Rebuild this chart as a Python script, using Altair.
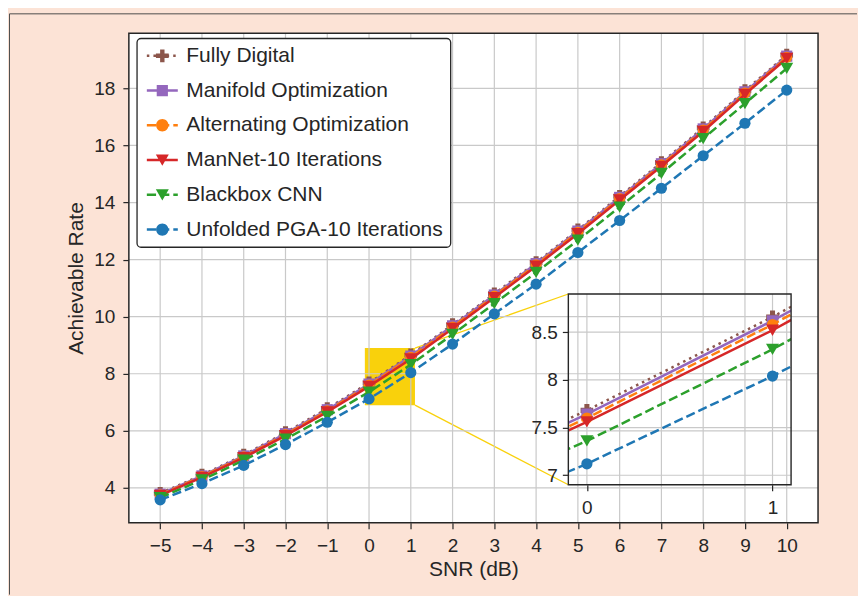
import altair as alt
import pandas as pd

# ---------------- data ----------------
SNR = [-5, -4, -3, -2, -1, 0, 1, 2, 3, 4, 5, 6, 7, 8, 9, 10]
SERIES = [
    "Fully Digital",
    "Manifold Optimization",
    "Alternating Optimization",
    "ManNet-10 Iterations",
    "Blackbox CNN",
    "Unfolded PGA-10 Iterations",
]
FULLY_DIGITAL = [3.81, 4.45, 5.15, 5.94, 6.78, 7.68, 8.66, 9.72, 10.80, 11.90, 13.04, 14.22, 15.40, 16.62, 17.92, 19.17]
MANIFOLD = [3.78, 4.42, 5.12, 5.90, 6.74, 7.64, 8.62, 9.68, 10.76, 11.86, 13.00, 14.18, 15.36, 16.58, 17.88, 19.13]
ALTERNATING = [3.76, 4.40, 5.09, 5.87, 6.70, 7.60, 8.58, 9.64, 10.72, 11.82, 12.96, 14.14, 15.32, 16.54, 17.84, 19.09]
MANNET = [3.74, 4.37, 5.06, 5.83, 6.66, 7.56, 8.52, 9.59, 10.67, 11.77, 12.91, 14.09, 15.27, 16.49, 17.79, 19.05]
BLACKBOX = [3.66, 4.28, 4.97, 5.71, 6.51, 7.36, 8.32, 9.38, 10.46, 11.55, 12.68, 13.84, 15.02, 16.24, 17.47, 18.70]
PGA = [3.58, 4.15, 4.79, 5.52, 6.30, 7.12, 8.04, 9.04, 10.10, 11.14, 12.25, 13.37, 14.50, 15.64, 16.78, 17.94]
VALUES = [FULLY_DIGITAL, MANIFOLD, ALTERNATING, MANNET, BLACKBOX, PGA]

X_TICKS = [-5, -4, -3, -2, -1, 0, 1, 2, 3, 4, 5, 6, 7, 8, 9, 10]
Y_TICKS = [4, 6, 8, 10, 12, 14, 16, 18]
INSET_X_TICKS = [0, 1]
INSET_Y_TICKS = [7, 7.5, 8, 8.5]
ZOOM_X = [-0.1, 1.1]
ZOOM_Y = [6.9, 8.9]

# ---------------- styles / layout ----------------
COLORS = ["#8c564b", "#9467bd", "#ff7f0e", "#d62728", "#2ca02c", "#1f77b4"]
DASHES = [[2.5, 4.1], None, [9.25, 4.0], None, [9.25, 4.0], [9.25, 4.0]]
SHAPES = ["cross", "square", "circle", "triangle-down", "triangle-down", "circle"]
SIZES = [160, 125, 125, 170, 170, 125]
LW = 2.5

W, H = 690, 490
X_DOM = [-5.75, 10.75]
Y_DOM = [2.78, 19.93]
IN_LEFT, IN_W, IN_TOP, IN_BOTTOM = 440, 223, 261, 452

FONT = "Liberation Sans"
INK = "#262626"
GRID = "#c9c9c9"
GOLD = "#F9D10C"
PEACH = "#FCE3D6"
BORDER = "#4d4d4d"

rows = []
for name, vals in zip(SERIES, VALUES):
    for s, v in zip(SNR, vals):
        rows.append({"snr": s, "rate": v, "series": name})
df = pd.DataFrame(rows)

# ---------------- legend symbols (line + marker as custom paths) ----------------
U = 10.0  # px per path unit for symbolSize 400
L, R, M = -0.75, 2.35, 0.8
T = (LW / 2) / U


def rect(x0, x1, t=T):
    return f"M{x0:.3f},{-t:.3f}H{x1:.3f}V{t:.3f}H{x0:.3f}Z"


def line_path(dash):
    if dash is None:
        return rect(L, R)
    d, g = dash[0] / U, dash[1] / U
    out, x = [], L
    while x < R - 1e-6:
        out.append(rect(x, min(x + d, R)))
        x += d + g
    return "".join(out)


def marker_path(shape):
    if shape == "circle":
        r = 0.62
        return f"M{M + r:.3f},0A{r},{r} 0 1,1 {M - r:.3f},0A{r},{r} 0 1,1 {M + r:.3f},0Z"
    if shape == "square":
        s = 0.56
        return f"M{M - s:.3f},{-s}H{M + s:.3f}V{s}H{M - s:.3f}Z"
    if shape == "triangle-down":
        return f"M{M - 0.65:.3f},-0.56H{M + 0.65:.3f}L{M:.3f},0.58Z"
    a, b = 0.64, 0.22
    pts = [(M - b, -a), (M + b, -a), (M + b, -b), (M + a, -b), (M + a, b), (M + b, b),
           (M + b, a), (M - b, a), (M - b, b), (M - a, b), (M - a, -b), (M - b, -b)]
    return "M" + "L".join(f"{x:.3f},{y:.3f}" for x, y in pts) + "Z"


PATHS = [line_path(d) + marker_path(s) for d, s in zip(DASHES, SHAPES)]

# ---------------- main panel ----------------
# the panel is declared IN_LEFT wide so the inset (next in the row) starts there;
# the x scale range still covers the full plot width W.
xs = alt.Scale(domain=X_DOM, nice=False, zero=False, range=[0, W])
ys = alt.Scale(domain=Y_DOM, nice=False, zero=False)
x_axis = alt.Axis(values=X_TICKS, grid=False, labelPadding=8, titlePadding=3)
y_axis = alt.Axis(values=Y_TICKS, grid=False, labelPadding=8, titlePadding=7)


def mx(f):
    return alt.X(f, type="quantitative", scale=xs, axis=x_axis, title="SNR (dB)")


def my(f):
    return alt.Y(f, type="quantitative", scale=ys, axis=y_axis, title="Achievable Rate")


panel = pd.DataFrame({"x0": [X_DOM[0]], "x1": [X_DOM[1]], "y0": [Y_DOM[0]], "y1": [Y_DOM[1]]})
box = pd.DataFrame({"x0": [ZOOM_X[0]], "x1": [ZOOM_X[1]], "y0": [ZOOM_Y[0]], "y1": [ZOOM_Y[1]]})

ix_main = X_DOM[0] + IN_LEFT / W * (X_DOM[1] - X_DOM[0])
iy_top_main = Y_DOM[1] - IN_TOP / H * (Y_DOM[1] - Y_DOM[0])
iy_bot_main = Y_DOM[1] - IN_BOTTOM / H * (Y_DOM[1] - Y_DOM[0])
conn = pd.DataFrame({
    "x": [ZOOM_X[1], ZOOM_X[1]],
    "y": [ZOOM_Y[1], ZOOM_Y[0]],
    "xe": [ix_main, ix_main],
    "ye": [iy_top_main, iy_bot_main],
})

one = pd.DataFrame({"a": [0]})
top_border = alt.Chart(one).mark_rule(color=BORDER, strokeWidth=1).encode(
    x=alt.value(-119.5), x2=alt.value(729), y=alt.value(-19.5))
left_border = alt.Chart(one).mark_rule(color=BORDER, strokeWidth=1).encode(
    x=alt.value(-119.5), y=alt.value(-19.5), y2=alt.value(562))

plot_bg = alt.Chart(panel).mark_rect(color="white").encode(x=mx("x0"), x2="x1", y=my("y0"), y2="y1")
plot_frame = alt.Chart(panel).mark_rect(fillOpacity=0, stroke=INK, strokeWidth=1.5).encode(
    x=mx("x0"), x2="x1", y=my("y0"), y2="y1")

legend = alt.Legend(orient="none", legendX=8, legendY=5, direction="vertical")
proxy = alt.Chart(pd.DataFrame({"series": SERIES})).mark_point(filled=True, size=400, opacity=1).encode(
    x=alt.value(100), y=alt.value(100),
    color=alt.Color("series:N", scale=alt.Scale(domain=SERIES, range=COLORS), legend=legend, title=None),
    shape=alt.Shape("series:N", scale=alt.Scale(domain=SERIES, range=PATHS), legend=legend, title=None),
)

zoom_rect = alt.Chart(box).mark_rect(color=GOLD).encode(x=mx("x0"), x2="x1", y=my("y0"), y2="y1")
connectors = alt.Chart(conn).mark_rule(color=GOLD, strokeWidth=1.3).encode(
    x=mx("x"), y=my("y"), x2="xe", y2="ye")
vgrid = alt.Chart(pd.DataFrame({"v": X_TICKS})).mark_rule(color=GRID, strokeWidth=1.2).encode(
    x=mx("v"), y=alt.value(0), y2=alt.value(H))
hgrid = alt.Chart(pd.DataFrame({"v": Y_TICKS})).mark_rule(color=GRID, strokeWidth=1.2).encode(
    y=my("v"), x=alt.value(0), x2=alt.value(W))

main_layers = [top_border, left_border, plot_bg, proxy, zoom_rect, connectors, vgrid, hgrid]
for name, c, d, s, z in zip(SERIES, COLORS, DASHES, SHAPES, SIZES):
    base = alt.Chart(df).transform_filter(alt.datum.series == name)
    lkw = dict(color=c, strokeWidth=LW)
    if d is not None:
        lkw["strokeDash"] = d
    main_layers.append(base.mark_line(**lkw).encode(x=mx("snr"), y=my("rate")))
    main_layers.append(base.mark_point(filled=True, shape=s, size=z, color=c, opacity=1).encode(
        x=mx("snr"), y=my("rate")))
main_layers.append(plot_frame)

main = alt.layer(*main_layers).properties(
    width=IN_LEFT, height=H,
    view=alt.ViewBackground(stroke="transparent"),
)

# ---------------- inset panel ----------------
ixs = alt.Scale(domain=ZOOM_X, nice=False, zero=False)
iys = alt.Scale(domain=ZOOM_Y, nice=False, zero=False, range=[IN_BOTTOM, IN_TOP])
ix_axis = alt.Axis(values=INSET_X_TICKS, grid=False, labelPadding=8, format="~g")
iy_axis = alt.Axis(values=INSET_Y_TICKS, grid=False, labelPadding=5, format="~g")


def ixe(f):
    return alt.X(f, type="quantitative", scale=ixs, axis=ix_axis, title=None)


def iye(f):
    return alt.Y(f, type="quantitative", scale=iys, axis=iy_axis, title=None)


igrid_v = alt.Chart(pd.DataFrame({"v": INSET_X_TICKS, "y0": ZOOM_Y[0], "y1": ZOOM_Y[1]})).mark_rule(
    color=GRID, strokeWidth=1.2).encode(x=ixe("v"), y=iye("y0"), y2="y1")
igrid_h = alt.Chart(pd.DataFrame({"v": INSET_Y_TICKS, "x0": ZOOM_X[0], "x1": ZOOM_X[1]})).mark_rule(
    color=GRID, strokeWidth=1.2).encode(y=iye("v"), x=ixe("x0"), x2="x1")

inset_layers = [igrid_v, igrid_h]
for name, c, d, s, z in zip(SERIES, COLORS, DASHES, SHAPES, SIZES):
    base = alt.Chart(df).transform_filter(alt.datum.series == name)
    lkw = dict(color=c, strokeWidth=LW, clip=True)
    if d is not None:
        lkw["strokeDash"] = d
    inset_layers.append(base.mark_line(**lkw).encode(x=ixe("snr"), y=iye("rate")))
    inset_layers.append(base.mark_point(filled=True, shape=s, size=z, color=c, opacity=1, clip=True).encode(
        x=ixe("snr"), y=iye("rate")))
inset_layers.append(
    alt.Chart(box).mark_rect(fillOpacity=0, stroke=INK, strokeWidth=1.4).encode(
        x=ixe("x0"), x2="x1", y=iye("y0"), y2="y1")
)

inset = alt.layer(*inset_layers).properties(
    width=IN_W, height=IN_BOTTOM,
    view=alt.ViewBackground(stroke="transparent"),
)

chart = alt.hconcat(main, inset, spacing=0, bounds="flush").properties(
    background=PEACH,
    padding={"left": 0, "top": 4, "right": 0, "bottom": 0},
).configure_axis(
    labelFont=FONT, labelFontSize=19, labelColor=INK,
    titleFont=FONT, titleFontSize=21, titleFontWeight="normal", titleColor=INK,
    tickColor=INK, tickSize=6, tickWidth=1.2, domain=False,
).configure_legend(
    fillColor="white", strokeColor=INK, strokeWidth=1.3, cornerRadius=4,
    padding=7, rowPadding=12.8, labelFont=FONT, labelFontSize=21, labelColor=INK,
    labelOffset=21.5, labelLimit=400, symbolSize=400, symbolStrokeWidth=0, symbolOpacity=1,
)

chart.save("out.html", embed_options={"renderer": "svg", "actions": False})
